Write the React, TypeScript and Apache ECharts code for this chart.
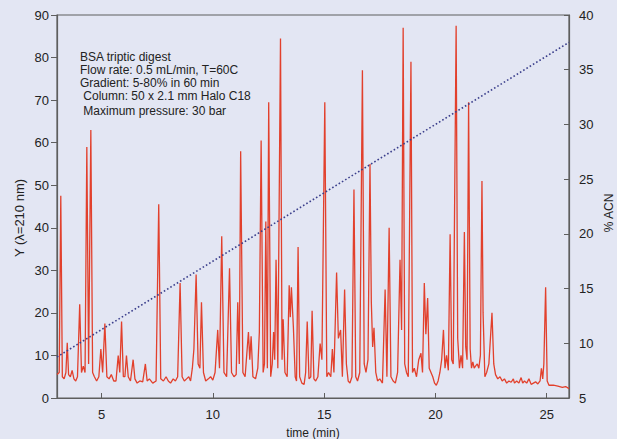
import React, { useEffect, useRef } from "react";
import * as echarts from "echarts";

// Chromatogram trace (time in min, absorbance Y at 210 nm)
const traceTime = [
  3.0, 3.1, 3.17, 3.24, 3.32, 3.4, 3.46, 3.52, 3.6, 3.68, 3.76, 3.84, 3.92, 4.02, 4.1, 4.18, 4.26, 4.34, 4.42, 4.52,
  4.6, 4.68, 4.78, 4.88, 4.97, 5.05, 5.15, 5.24, 5.34, 5.44, 5.55, 5.65, 5.75, 5.82, 5.9, 5.98, 6.05, 6.12, 6.2, 6.3,
  6.42, 6.5, 6.6, 6.72, 6.85, 6.97, 7.05, 7.15, 7.3, 7.45, 7.57, 7.66, 7.78, 7.9, 8.0, 8.1, 8.22, 8.32, 8.42, 8.53,
  8.62, 8.72, 8.82, 8.92, 9.0, 9.08, 9.15, 9.25, 9.34, 9.42, 9.49, 9.58, 9.68, 9.8, 9.9, 10.0, 10.1, 10.22, 10.3, 10.4,
  10.5, 10.62, 10.75, 10.84, 10.95, 11.05, 11.12, 11.19, 11.25, 11.35, 11.45, 11.6, 11.66, 11.72, 11.8, 11.92, 12.02, 12.09, 12.17, 12.26,
  12.32, 12.38, 12.45, 12.51, 12.6, 12.67, 12.73, 12.78, 12.84, 12.92, 13.04, 13.11, 13.16, 13.24, 13.34, 13.43, 13.48, 13.53, 13.62, 13.7,
  13.76, 13.83, 13.9, 14.0, 14.1, 14.17, 14.24, 14.32, 14.4, 14.46, 14.54, 14.62, 14.72, 14.82, 14.9, 15.03, 15.12, 15.2, 15.3, 15.37,
  15.44, 15.56, 15.64, 15.74, 15.82, 15.92, 16.0, 16.08, 16.16, 16.25, 16.34, 16.42, 16.5, 16.6, 16.72, 16.8, 16.88, 16.97, 17.06, 17.12,
  17.18, 17.24, 17.32, 17.4, 17.5, 17.62, 17.74, 17.82, 17.92, 18.0, 18.1, 18.2, 18.3, 18.41, 18.48, 18.55, 18.62, 18.7, 18.78, 18.9,
  18.97, 19.05, 19.15, 19.25, 19.35, 19.42, 19.5, 19.57, 19.65, 19.72, 19.8, 19.88, 19.96, 20.04, 20.12, 20.2, 20.28, 20.36, 20.43, 20.5,
  20.58, 20.66, 20.73, 20.8, 20.93, 21.0, 21.08, 21.15, 21.22, 21.3, 21.36, 21.42, 21.49, 21.56, 21.62, 21.68, 21.74, 21.8, 21.88, 21.95,
  22.02, 22.09, 22.14, 22.22, 22.3, 22.4, 22.54, 22.62, 22.7, 22.8, 22.9, 23.0, 23.1, 23.2, 23.3, 23.4, 23.5, 23.55, 23.65, 23.75,
  23.85, 23.92, 24.0, 24.1, 24.2, 24.3, 24.4, 24.5, 24.6, 24.7, 24.76, 24.82, 24.87, 24.95, 25.02, 25.1, 25.3, 25.5, 25.7, 25.85,
  26.0,
];
const traceValue = [
  5.5, 6, 47.5, 5, 4.5, 6, 13, 5.5, 5, 6.5, 4.5, 4, 5, 22, 6, 7.5, 6, 59, 8, 63,
  6, 5, 4, 5, 11.5, 6, 17.5, 5, 4.5, 5.5, 4, 4, 10, 6, 18, 5, 5, 10, 5, 4,
  9, 4.5, 3.5, 4, 3.8, 8, 4, 4.5, 3.5, 4, 45.5, 4.5, 4, 5, 4, 3.5, 4.5, 4, 5, 27,
  5, 4, 4.5, 5, 4, 7, 11.5, 29, 8, 7, 22.5, 6, 4, 4.5, 5, 4.2, 6, 16, 7, 38,
  6, 5, 30.5, 6, 5, 5.5, 22.5, 8, 58, 6, 5, 15.5, 9, 14.5, 5, 4.5, 7, 15.5, 60.5, 6,
  8, 41.5, 7, 69.5, 5, 8, 15.5, 9, 32.5, 7, 84.5, 9, 18.5, 6, 5, 26.5, 19, 26, 16.5, 5,
  4, 35.5, 5, 3.5, 3.2, 6, 18, 4.5, 5, 20.5, 4.5, 4, 5, 12.8, 9, 69.5, 5, 6, 5, 11.5,
  6, 29.5, 14, 16, 5, 25.5, 8, 4, 3.5, 5, 49, 5, 4, 6, 77, 8, 6, 9, 55, 22.5,
  12, 16.5, 6, 4, 4.5, 3.5, 25.5, 5, 40, 5, 4, 3.5, 6, 32.5, 16, 87, 8, 6, 5, 79,
  6, 7, 5, 9, 10.5, 6, 27, 15, 23.5, 7, 6, 5, 3.5, 3, 4, 6, 9, 16, 7, 10,
  6.5, 38.5, 9, 8, 87.5, 14, 7, 10, 7, 39, 12, 9, 69.5, 11.5, 7, 8.5, 7, 7.5, 8, 7,
  10, 51, 20, 5, 6, 8, 20, 8, 5.5, 4.5, 5, 4, 4.5, 3.5, 4, 3.7, 4.5, 3.5, 4, 3.5,
  4.8, 3.5, 4, 3.5, 4.5, 3.2, 3.5, 3.8, 3.3, 4, 7, 4.5, 8, 26, 4, 3, 3, 2.8, 2.5, 2.7,
  2.2,
];

// Gradient (% ACN) line: end points
const gradientTime = [3, 26];
const gradientACN = [8.75, 37.5];

// Axis settings
const xTickValues = [5, 10, 15, 20, 25];
const xRange = [3, 26];
const leftRange = [0, 90];
const rightRange = [5, 40];

const notes = [
  "BSA triptic digest",
  "Flow rate: 0.5 mL/min, T=60C",
  "Gradient: 5-80% in 60 min",
  " Column: 50 x 2.1 mm Halo C18",
  " Maximum pressure: 30 bar",
];
const noteY = [57, 70, 83, 96, 111];

const FONT = "'Liberation Sans', Arial, sans-serif";
const BG = "#e3e6f3";
const AXIS = "#5e5e5e";
const TXT = "#222222";
const W = 617;
const H = 439;

export default function App() {
  const ref = useRef<HTMLDivElement>(null);
  useEffect(() => {
    document.body.style.margin = "0";
    document.body.style.background = BG;
    const chart = echarts.init(ref.current!, null, { renderer: "svg", width: W, height: H });
    const trace = traceTime.map((t, i) => [t, traceValue[i]]);
    const grad = gradientTime.map((t, i) => [t, gradientACN[i]]);
    chart.setOption({
      animation: false,
      backgroundColor: BG,
      textStyle: { fontFamily: FONT },
      grid: {
        left: 57,
        right: 48,
        top: 15,
        bottom: 41,
        show: true,
        borderColor: AXIS,
        borderWidth: 1.2,
        containLabel: false,
        outerBoundsMode: "none",
      },
      xAxis: {
        type: "value",
        min: xRange[0],
        max: xRange[1],
        name: "time (min)",
        nameLocation: "middle",
        nameGap: 29,
        nameTextStyle: { color: TXT, fontSize: 12, fontFamily: FONT },
        axisLine: { show: true, lineStyle: { color: AXIS, width: 1.2 } },
        axisTick: { show: true, inside: true, length: 5, customValues: xTickValues, lineStyle: { color: AXIS } },
        axisLabel: { color: TXT, fontSize: 13, margin: 10, fontFamily: FONT, customValues: xTickValues },
        splitLine: { show: false },
      },
      yAxis: [
        {
          type: "value",
          min: leftRange[0],
          max: leftRange[1],
          interval: 10,
          position: "left",
          axisLine: { show: true, lineStyle: { color: AXIS, width: 1.2 } },
          axisTick: { show: true, inside: false, length: 6, lineStyle: { color: AXIS } },
          axisLabel: { color: TXT, fontSize: 13, margin: 8, fontFamily: FONT },
          splitLine: { show: false },
        },
        {
          type: "value",
          min: rightRange[0],
          max: rightRange[1],
          interval: 5,
          position: "right",
          axisLine: { show: true, lineStyle: { color: AXIS, width: 1.2 } },
          axisTick: { show: true, inside: true, length: 5, lineStyle: { color: AXIS } },
          axisLabel: { color: TXT, fontSize: 13, margin: 10, fontFamily: FONT },
          splitLine: { show: false },
        },
      ],
      graphic: [
        ...notes.map((n, i) => ({
          type: "text",
          x: 80,
          y: noteY[i],
          style: {
            text: n,
            fill: TXT,
            font: `12px ${FONT}`,
            verticalAlign: "middle",
          },
        })),
        {
          type: "text",
          x: 19,
          y: 218,
          rotation: Math.PI / 2,
          style: {
            text: "Y (\u03bb=210 nm)",
            fill: TXT,
            font: `13px ${FONT}`,
            align: "center",
            verticalAlign: "middle",
          },
        },
        {
          type: "text",
          x: 609,
          y: 213,
          rotation: Math.PI / 2,
          style: {
            text: "% ACN",
            fill: TXT,
            font: `12px ${FONT}`,
            align: "center",
            verticalAlign: "middle",
          },
        },
      ],
      series: [
        {
          type: "line",
          name: "Y",
          data: trace,
          xAxisIndex: 0,
          yAxisIndex: 0,
          showSymbol: false,
          symbol: "none",
          lineStyle: { color: "#e2402c", width: 1.3 },
          z: 2,
        },
        {
          type: "line",
          name: "% ACN",
          data: grad,
          xAxisIndex: 0,
          yAxisIndex: 1,
          showSymbol: false,
          symbol: "none",
          lineStyle: { color: "#3b3f8c", width: 1.6, type: [1.6, 2.2] },
          z: 3,
        },
      ],
    });
    return () => chart.dispose();
  }, []);
  return <div ref={ref} style={{ position: "absolute", left: 0, top: 0, width: W, height: H }} />;
}
